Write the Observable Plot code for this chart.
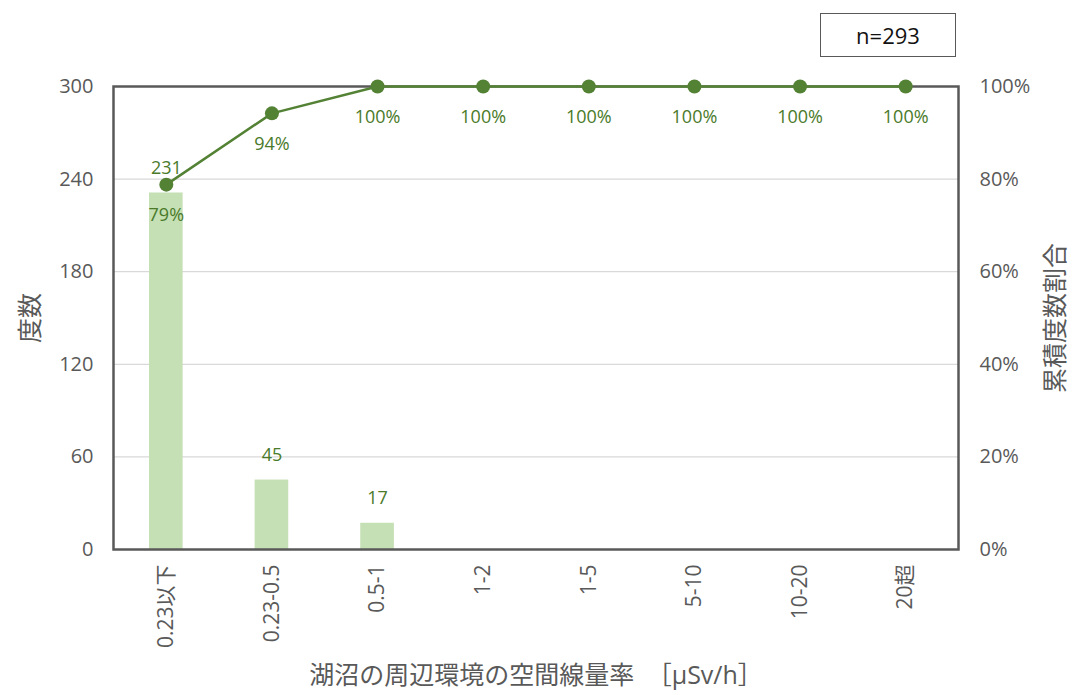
<!DOCTYPE html>
<html>
<head>
<meta charset="utf-8">
<script src="https://cdn.jsdelivr.net/npm/d3@7"></script>
<script src="https://cdn.jsdelivr.net/npm/@observablehq/plot@0.6"></script>
<style>
  html, body { margin: 0; padding: 0; background: #fff; }
  #wrap { position: relative; width: 1077px; height: 695px; }
  #nbox { position: absolute; left: 820px; top: 13px; width: 134px; height: 42px;
    border: 1.5px solid #595959; font: 22px "Open Sans", "Noto Sans CJK JP", sans-serif;
    color: #111; display: flex; align-items: center; justify-content: center; box-sizing: content-box; }
</style>
</head>
<body>
<div id="wrap"><div id="nbox">n=293</div></div>
<script>
const categories = ["0.23以下", "0.23-0.5", "0.5-1", "1-2", "1-5", "5-10", "10-20", "20超"];
const counts = [231, 45, 17, 0, 0, 0, 0, 0];
const cumPct = [78.8, 94.2, 100, 100, 100, 100, 100, 100];
const pctLabels = ["79%", "94%", "100%", "100%", "100%", "100%", "100%", "100%"];
const leftTicks = [0, 60, 120, 180, 240, 300];
const gridTicks = [60, 120, 180, 240];

const data = categories.map((c, i) => ({cat: c, count: counts[i], pct: cumPct[i], pctLabel: pctLabels[i]}));
const font = "'Open Sans', 'Noto Sans CJK JP', sans-serif";
const green = "#548235";
const labelGreen = "#4a7a2a";
const gray = "#595959";

const chart = Plot.plot({
  width: 1077,
  height: 695,
  marginLeft: 113,
  marginRight: 119,
  marginTop: 86,
  marginBottom: 146,
  style: {fontFamily: font, fontSize: "20px", color: gray, background: "#fff"},
  x: {domain: categories, padding: 0, round: false},
  y: {domain: [0, 300]},
  marks: [
    Plot.ruleY(gridTicks, {stroke: "#d9d9d9", strokeWidth: 1.3}),
    Plot.barY(data, {x: "cat", y: "count", fill: "#c5e0b4", insetLeft: 36, insetRight: 36}),
    Plot.frame({stroke: gray, strokeWidth: 2.5}),
    Plot.axisY({anchor: "left", ticks: leftTicks, tickSize: 0, tickPadding: 20, label: null, fill: gray, fontSize: 20}),
    Plot.axisY({anchor: "right", ticks: leftTicks, tickSize: 0, tickPadding: 21, label: null, fill: gray, fontSize: 20,
      tickFormat: d => Math.round(d / 3) + "%"}),
    Plot.axisX({tickRotate: -90, tickSize: 0, tickPadding: 15, label: null, fill: gray, fontSize: 21}),
    Plot.line(data, {x: "cat", y: d => d.pct * 3, stroke: green, strokeWidth: 2.5}),
    Plot.dot(data, {x: "cat", y: d => d.pct * 3, r: 7, fill: green, stroke: "none"}),
    Plot.text(data.filter(d => d.count > 0), {x: "cat", y: "count", text: d => String(d.count), dy: -25, fill: labelGreen, fontSize: 18}),
    Plot.text(data, {x: "cat", y: d => d.pct * 3, text: "pctLabel", dy: 31, fill: labelGreen, fontSize: 18}),
    Plot.text(["度数"], {frameAnchor: "left", textAnchor: "middle", dx: -83, rotate: -90, fill: gray, fontSize: 25}),
    Plot.text(["累積度数割合"], {frameAnchor: "right", textAnchor: "middle", dx: 97, rotate: -90, fill: gray, fontSize: 25}),
    Plot.text(["湖沼の周辺環境の空間線量率　［µSv/h］"], {frameAnchor: "bottom", textAnchor: "middle", dy: 134, fill: gray, fontSize: 25})
  ]
});
document.getElementById("wrap").prepend(chart);
</script>
</body>
</html>
